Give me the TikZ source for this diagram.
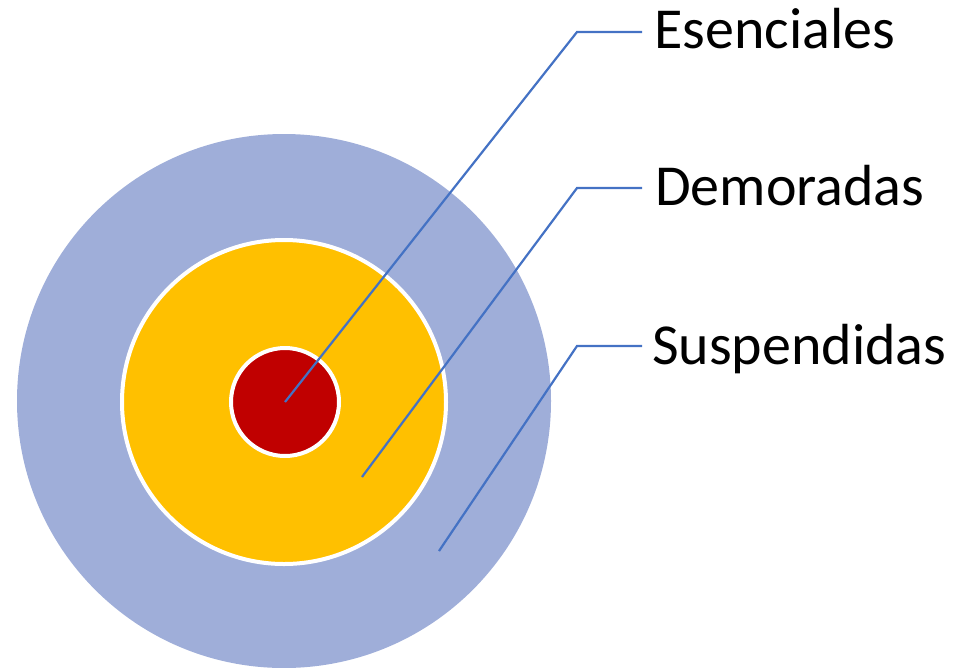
\documentclass[tikz,border=0pt]{standalone}
\usepackage{fontspec}
\setmainfont{Carlito}
\definecolor{outerring}{HTML}{9FAED9}
\definecolor{midring}{HTML}{FFC000}
\definecolor{core}{HTML}{C00000}
\definecolor{leader}{HTML}{4472C4}
\begin{document}
\begin{tikzpicture}[x=1pt,y=-1pt,
  ring/.style={circle,draw=white,line width=4pt,inner sep=0pt},
  lbl/.style={anchor=base west,inner sep=0pt,font=\fontsize{58}{64}\selectfont},
  leadline/.style={draw=leader,line width=2.2pt}]
\useasboundingbox (0,0) rectangle (958,667);
% concentric rings
\node[ring,fill=outerring,draw=none,minimum size=534pt] (outer) at (284,401) {};
\node[ring,fill=midring,minimum size=324pt] (mid) at (284,402) {};
\node[ring,fill=core,minimum size=108pt] (inner) at (285,402) {};
% pointer targets
\coordinate (pE) at (285,402);
\coordinate (pD) at (362,477);
\coordinate (pS) at (439,551);
% labels
\node[lbl] (E) at (654,48) {Esenciales};
\node[lbl] (D) at (655,205) {Demoradas};
\node[lbl] (S) at (652,364) {Suspendidas};
% leader lines
\draw[leadline] (pE) -- (577,32) -- (642,32);
\draw[leadline] (pD) -- (577,188) -- (642,188);
\draw[leadline] (pS) -- (577,346) -- (642,346);
\end{tikzpicture}
\end{document}
